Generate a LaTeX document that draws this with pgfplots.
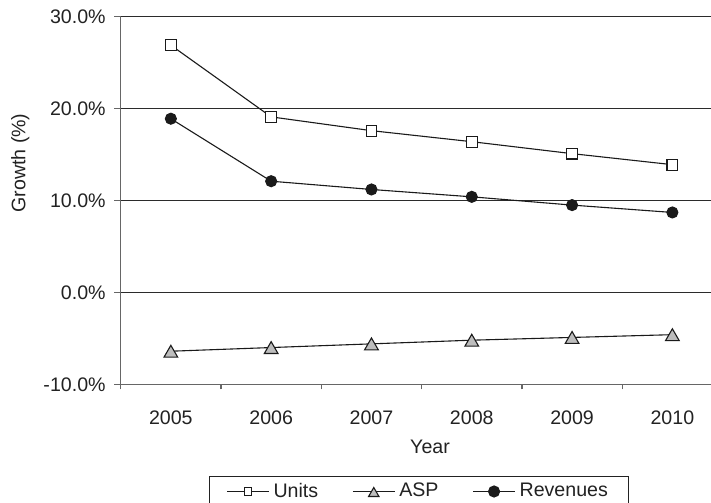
\documentclass[border=0pt]{standalone}
\usepackage{fontspec}
\setmainfont{Liberation Sans}
\usepackage{pgfplots}
\pgfplotsset{compat=1.18}
\definecolor{txt}{HTML}{222222}
\definecolor{gridc}{HTML}{2B2B2B}
\definecolor{axisgray}{HTML}{666666}
\definecolor{ln}{HTML}{1A1A1A}
\definecolor{tri}{HTML}{BDBDBD}
\newcommand\cf{\fontsize{9.8bp}{11.8bp}\selectfont}
\begin{document}
\begin{tikzpicture}
\useasboundingbox (-60.35bp,-59.35bp) rectangle (295.15bp,192.15bp);
\begin{axis}[
  at={(0,0)}, anchor=south west,
  scale only axis, width=295.15bp, height=183.8bp,
  xmin=-0.5, xmax=5.385, ymin=-10, ymax=30,
  axis x line*=bottom, axis y line*=left,
  axis line style={axisgray, line width=0.65bp},
  every tick/.style={axisgray, line width=0.65bp},
  tick align=outside,
  major tick length=3.2bp, minor tick length=2.5bp,
  xtick={0,1,2,3,4,5},
  xticklabels={2005,2006,2007,2008,2009,2010},
  major x tick style={draw=none},
  minor xtick={-0.5,0.5,1.5,2.5,3.5,4.5},
  ytick={-10,0,10,20,30},
  yticklabels={-10.0\%,0.0\%,10.0\%,20.0\%,30.0\%},
  extra y ticks={0,10,20,30},
  extra y tick labels={},
  extra y tick style={ymajorgrids=true, major tick length=0pt},
  major grid style={gridc, line width=0.65bp},
  every tick label/.append style={font=\cf, text=txt},
  yticklabel style={anchor=east, inner sep=0pt, xshift=-4.15bp},
  xticklabel style={anchor=base, inner sep=0pt, yshift=-16.65bp},
  xlabel={Year},
  xlabel style={font=\cf, text=txt, at={(axis description cs:0.524,0)}, anchor=base, yshift=-34.5bp},
  ylabel={Growth (\%)},
  ylabel style={font=\cf, text=txt, at={(axis description cs:0,0.602)}, anchor=center, yshift=50.15bp},
  legend columns=3,
  legend cell align=left,
  legend style={at={(axis description cs:0.1496,-0.2495)}, anchor=north west,
    draw=txt, line width=0.5bp, font=\cf, text=txt, inner xsep=8.5bp, inner ysep=1.2bp,
    /tikz/every even column/.append style={column sep=15bp}},
  legend image code/.code={\draw[mark repeat=2,mark phase=2,#1] plot coordinates {(0bp,0bp) (10.5bp,0bp) (21bp,0bp)};},
]
\addplot[ln, line width=0.55bp, mark=square*, mark size=2.7bp,
  mark options={fill=white, draw=ln, line width=0.55bp},
  legend image post style={mark size=1.9bp}]
  coordinates {(0,26.9) (1,19.1) (2,17.6) (3,16.4) (4,15.1) (5,13.9)};
\addlegendentry{Units}
\addplot[ln, line width=0.55bp, mark=triangle*, mark size=3.95bp,
  mark options={fill=tri, draw=ln, line width=0.55bp, yshift=-1bp},
  legend image post style={mark size=3bp}]
  coordinates {(0,-6.4) (1,-6.0) (2,-5.6) (3,-5.2) (4,-4.9) (5,-4.6)};
\addlegendentry{ASP}
\addplot[ln, line width=0.55bp, mark=*, mark size=2.75bp,
  mark options={fill=ln, draw=ln, line width=0.55bp}]
  coordinates {(0,18.9) (1,12.1) (2,11.2) (3,10.4) (4,9.5) (5,8.7)};
\addlegendentry{Revenues}
\end{axis}
\end{tikzpicture}
\end{document}
